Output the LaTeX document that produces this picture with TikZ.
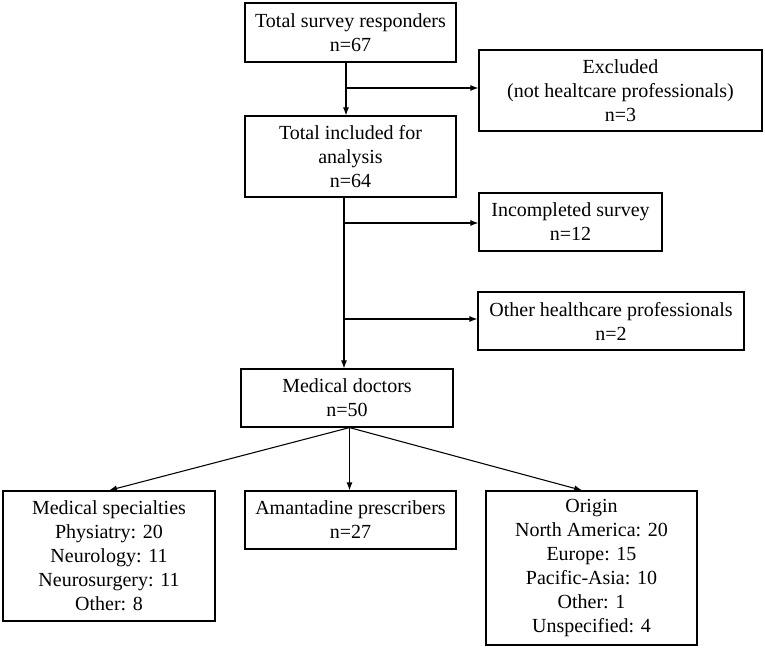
\documentclass[tikz,border=0pt]{standalone}
\usepackage{fontspec}
\setmainfont{Liberation Serif}
\usetikzlibrary{arrows.meta, positioning, calc}

\begin{document}
\begin{tikzpicture}[x=0.75pt, y=-0.75pt, >={Latex[length=6pt, width=4.5pt]}]

        % --- Styles ---
        \tikzstyle{box} = [rectangle, draw=black, line width=0.9pt, align=center, inner sep=2pt, font=\fontsize{15}{18}\selectfont]
        \tikzstyle{arrow} = [line width=0.8pt, ->]

        \useasboundingbox (0,0) rectangle (765,648);

        % --- Nodes ---

        % 1. Screening
        \node (total) [box, minimum width=158.25pt, minimum height=44.25pt] at (350.5,32.5) {Total survey responders\\n=67};
        \node (excluded) [box, minimum width=212.25pt, minimum height=60.75pt] at (620.5,90.5) {Excluded\\(not healtcare professionals)\\n=3};
        \node (included) [box, minimum width=158.25pt, minimum height=60.75pt] at (350.5,156.5) {Total included for\\analysis\\n=64};

        % 2. Removed after inclusion
        \node (incomplete) [box, minimum width=137.25pt, minimum height=43.5pt] at (570.5,222) {Incompleted survey\\n=12};
        \node (otherhp) [box, minimum width=199.5pt, minimum height=43.5pt] at (611,321) {Other healthcare professionals\\n=2};

        % 3. Doctors and breakdown
        \node (doctors) [box, minimum width=159pt, minimum height=43.5pt] at (347,398) {Medical doctors\\n=50};
        \node (specialties) [box, minimum width=159pt, minimum height=97.5pt] at (109,556) {Medical specialties\\Physiatry: 20\\Neurology: 11\\Neurosurgery: 11\\Other: 8};
        \node (amantadine) [box, minimum width=158.25pt, minimum height=43.5pt] at (350.5,520) {Amantadine prescribers\\n=27};
        \node (origin) [box, minimum width=158.25pt, minimum height=115.5pt] at (591.5,568) {Origin\\North America: 20\\Europe: 15\\Pacific-Asia: 10\\Other: 1\\Unspecified: 4};

        % --- Branch points ---
        \coordinate (split1) at (346,88);
        \coordinate (split2) at (344,223);
        \coordinate (split3) at (344,319);
        \coordinate (fan) at ($(doctors.south)+(2.5,0)$);

        % --- Arrows ---
        \draw[arrow] (total.south -| split1) -- (included.north -| split1);
        \draw[arrow] (split1) -- (split1 -| excluded.west);
        \draw[arrow] (included.south -| split2) -- (doctors.north -| split2);
        \draw[arrow] (split2) -- (split2 -| incomplete.west);
        \draw[arrow] (split3) -- (split3 -| otherhp.west);

        \draw[arrow] (fan) -- (specialties.north);
        \draw[arrow] (fan) -- (amantadine.north -| fan);
        \draw[arrow] (fan) -- ([xshift=-7pt]origin.north);
        \end{tikzpicture}
\end{document}
